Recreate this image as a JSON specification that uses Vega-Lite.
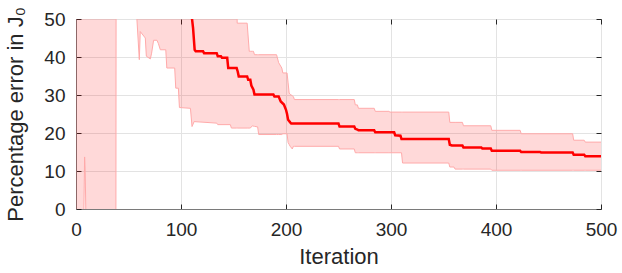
{
  "$schema": "https://vega.github.io/schema/vega-lite/v6.json",
  "autosize": "none",
  "width": 525,
  "height": 190,
  "padding": {"left": 76, "top": 19, "right": 21, "bottom": 64},
  "background": "white",
  "config": {
    "font": "Liberation Sans",
    "view": {"stroke": "#7a7a7a", "strokeWidth": 1},
    "axis": {
      "labelFont": "Liberation Sans",
      "titleFont": "Liberation Sans",
      "labelFontSize": 19,
      "titleFontSize": 22,
      "labelColor": "#262626",
      "titleColor": "#262626",
      "titleFontWeight": "normal",
      "domainColor": "#7a7a7a",
      "tickColor": "#262626",
      "gridColor": "#e3e3e3",
      "gridWidth": 1,
      "labelFlush": false
    }
  },
  "resolve": {"axis": {"x": "independent", "y": "independent"}},
  "datasets": {
    "band": [
      {"it": 0, "lo": -5, "hi": 60},
      {"it": 7.3, "lo": -5, "hi": 60},
      {"it": 8.2, "lo": 13.7, "hi": 60},
      {"it": 8.8, "lo": 9.5, "hi": 60},
      {"it": 9.6, "lo": -5, "hi": 60},
      {"it": 38, "lo": -5, "hi": 60},
      {"it": 38.2, "lo": 60, "hi": 60},
      {"it": 57.5, "lo": 60, "hi": 60},
      {"it": 58, "lo": 50, "hi": 60},
      {"it": 60.3, "lo": 39.3, "hi": 60},
      {"it": 61.2, "lo": 46.7, "hi": 60},
      {"it": 66, "lo": 45, "hi": 60},
      {"it": 67, "lo": 40.2, "hi": 60},
      {"it": 70.8, "lo": 39.5, "hi": 60},
      {"it": 72, "lo": 41, "hi": 60},
      {"it": 73.9, "lo": 44.4, "hi": 60},
      {"it": 77.1, "lo": 44.4, "hi": 60},
      {"it": 78.5, "lo": 43.5, "hi": 60},
      {"it": 80.3, "lo": 41.9, "hi": 60},
      {"it": 85.5, "lo": 41.9, "hi": 60},
      {"it": 86.5, "lo": 37.1, "hi": 60},
      {"it": 94, "lo": 37.1, "hi": 60},
      {"it": 95, "lo": 31.8, "hi": 60},
      {"it": 97.5, "lo": 31.8, "hi": 60},
      {"it": 98.5, "lo": 26.7, "hi": 60},
      {"it": 109, "lo": 26.5, "hi": 60},
      {"it": 110.5, "lo": 21.7, "hi": 60},
      {"it": 112.5, "lo": 23.0, "hi": 60},
      {"it": 134, "lo": 22.6, "hi": 60},
      {"it": 135, "lo": 22.2, "hi": 60},
      {"it": 147, "lo": 22.2, "hi": 60},
      {"it": 148, "lo": 21.3, "hi": 60},
      {"it": 153, "lo": 21.3, "hi": 60},
      {"it": 153.5, "lo": 21.3, "hi": 48.9},
      {"it": 163, "lo": 21.3, "hi": 48.9},
      {"it": 165, "lo": 21.3, "hi": 41.5},
      {"it": 166, "lo": 21.3, "hi": 41.5},
      {"it": 168, "lo": 21.9, "hi": 41.5},
      {"it": 169, "lo": 21.8, "hi": 41.5},
      {"it": 170, "lo": 21.75, "hi": 40.6},
      {"it": 173, "lo": 21.6, "hi": 40.6},
      {"it": 174, "lo": 19.6, "hi": 40.6},
      {"it": 191, "lo": 19.6, "hi": 40.6},
      {"it": 193, "lo": 19.6, "hi": 38.5},
      {"it": 196, "lo": 19.6, "hi": 37.1},
      {"it": 197, "lo": 19.8, "hi": 35.8},
      {"it": 201, "lo": 19.8, "hi": 35.8},
      {"it": 202, "lo": 17.5, "hi": 33.2},
      {"it": 203, "lo": 17.0, "hi": 30.5},
      {"it": 204, "lo": 16.5, "hi": 30.2},
      {"it": 206, "lo": 15.8, "hi": 29.8},
      {"it": 207, "lo": 16.5, "hi": 29.6},
      {"it": 208, "lo": 16.5, "hi": 28.8},
      {"it": 250, "lo": 16.5, "hi": 28.8},
      {"it": 251, "lo": 15.8, "hi": 28.8},
      {"it": 265, "lo": 15.8, "hi": 28.8},
      {"it": 266, "lo": 14.8, "hi": 27.4},
      {"it": 268, "lo": 14.8, "hi": 27.4},
      {"it": 269, "lo": 14.8, "hi": 26.5},
      {"it": 284, "lo": 14.8, "hi": 26.5},
      {"it": 285, "lo": 14.8, "hi": 25.7},
      {"it": 298, "lo": 14.8, "hi": 25.7},
      {"it": 299, "lo": 14.8, "hi": 25.5},
      {"it": 310, "lo": 14.8, "hi": 25.5},
      {"it": 311, "lo": 12.1, "hi": 25.5},
      {"it": 355, "lo": 12.1, "hi": 25.5},
      {"it": 356, "lo": 11.05, "hi": 22.8},
      {"it": 360, "lo": 11.05, "hi": 22.8},
      {"it": 361, "lo": 10.5, "hi": 22.8},
      {"it": 368, "lo": 10.5, "hi": 22.8},
      {"it": 369, "lo": 10.5, "hi": 21.9},
      {"it": 395, "lo": 10.5, "hi": 21.9},
      {"it": 396, "lo": 10.2, "hi": 20.7},
      {"it": 423, "lo": 10.2, "hi": 20.7},
      {"it": 424, "lo": 10.2, "hi": 19.8},
      {"it": 473, "lo": 10.2, "hi": 19.8},
      {"it": 474, "lo": 10.2, "hi": 18.1},
      {"it": 484, "lo": 10.2, "hi": 18.1},
      {"it": 485, "lo": 10.2, "hi": 17.6},
      {"it": 500, "lo": 10.2, "hi": 17.6}
    ],
    "med": [
      {"it": 109, "m": 56},
      {"it": 110.5, "m": 50},
      {"it": 111.5, "m": 47.6},
      {"it": 113, "m": 41.9},
      {"it": 114, "m": 41.5},
      {"it": 121, "m": 41.5},
      {"it": 122, "m": 41.0},
      {"it": 134, "m": 41.0},
      {"it": 135, "m": 40.2},
      {"it": 138, "m": 40.2},
      {"it": 139, "m": 39.8},
      {"it": 144, "m": 39.8},
      {"it": 145, "m": 37.1},
      {"it": 153, "m": 37.1},
      {"it": 154, "m": 36.2},
      {"it": 155, "m": 34.9},
      {"it": 163, "m": 34.9},
      {"it": 164, "m": 34.0},
      {"it": 166, "m": 34.0},
      {"it": 167, "m": 32.5},
      {"it": 169, "m": 31.4},
      {"it": 170, "m": 30.1},
      {"it": 188, "m": 30.1},
      {"it": 189, "m": 29.6},
      {"it": 193, "m": 29.6},
      {"it": 195, "m": 28.3},
      {"it": 198, "m": 27.5},
      {"it": 200, "m": 26.1},
      {"it": 201, "m": 25.0},
      {"it": 202, "m": 23.5},
      {"it": 204, "m": 22.8},
      {"it": 205, "m": 22.5},
      {"it": 250, "m": 22.5},
      {"it": 251, "m": 21.7},
      {"it": 265, "m": 21.7},
      {"it": 266, "m": 21.1},
      {"it": 268, "m": 20.9},
      {"it": 269, "m": 20.7},
      {"it": 284, "m": 20.7},
      {"it": 285, "m": 20.2},
      {"it": 303, "m": 20.2},
      {"it": 304, "m": 19.4},
      {"it": 309, "m": 19.3},
      {"it": 310, "m": 18.4},
      {"it": 355, "m": 18.4},
      {"it": 356, "m": 16.9},
      {"it": 358, "m": 16.7},
      {"it": 368, "m": 16.7},
      {"it": 369, "m": 16.2},
      {"it": 386, "m": 16.2},
      {"it": 387, "m": 15.9},
      {"it": 395, "m": 15.9},
      {"it": 396, "m": 15.3},
      {"it": 423, "m": 15.3},
      {"it": 424, "m": 15.0},
      {"it": 442, "m": 15.0},
      {"it": 443, "m": 14.9},
      {"it": 473, "m": 14.9},
      {"it": 474, "m": 14.3},
      {"it": 484, "m": 14.3},
      {"it": 485, "m": 13.9},
      {"it": 500, "m": 13.9}
    ]
  },
  "layer": [
    {
      "data": {"name": "band"},
      "mark": {"type": "area", "color": "#ff0000", "opacity": 0.15, "clip": true},
      "encoding": {
        "x": {"field": "it", "type": "quantitative", "scale": {"domain": [0, 500], "nice": false},
          "axis": {"orient": "bottom", "values": [0, 100, 200, 300, 400, 500], "title": "Iteration", "tickSize": -5, "labelPadding": 16, "titlePadding": 7, "grid": true}},
        "y": {"field": "hi", "type": "quantitative", "scale": {"domain": [0, 50], "nice": false},
          "axis": {"orient": "left", "values": [0, 10, 20, 30, 40, 50], "title": "Percentage error in J₀", "tickSize": -5, "labelPadding": 16, "titlePadding": 16, "grid": true}},
        "y2": {"field": "lo"}
      }
    },
    {
      "data": {"name": "band"},
      "mark": {"type": "line", "color": "#ffaaaa", "strokeWidth": 1, "clip": true},
      "encoding": {
        "x": {"field": "it", "type": "quantitative", "axis": {"orient": "top", "labels": false, "title": null, "grid": false, "domain": false, "tickSize": -5, "values": [0, 100, 200, 300, 400, 500]}},
        "y": {"field": "lo", "type": "quantitative", "axis": {"orient": "right", "labels": false, "title": null, "grid": false, "domain": false, "tickSize": -5, "values": [0, 10, 20, 30, 40, 50]}}
      }
    },
    {
      "data": {"name": "band"},
      "mark": {"type": "line", "color": "#ffaaaa", "strokeWidth": 1, "clip": true},
      "encoding": {
        "x": {"field": "it", "type": "quantitative", "axis": null},
        "y": {"field": "hi", "type": "quantitative", "axis": null}
      }
    },
    {
      "data": {"name": "med"},
      "mark": {"type": "line", "color": "#ff0000", "strokeWidth": 2.5, "clip": true},
      "encoding": {
        "x": {"field": "it", "type": "quantitative", "axis": null},
        "y": {"field": "m", "type": "quantitative", "axis": null}
      }
    }
  ]
}
